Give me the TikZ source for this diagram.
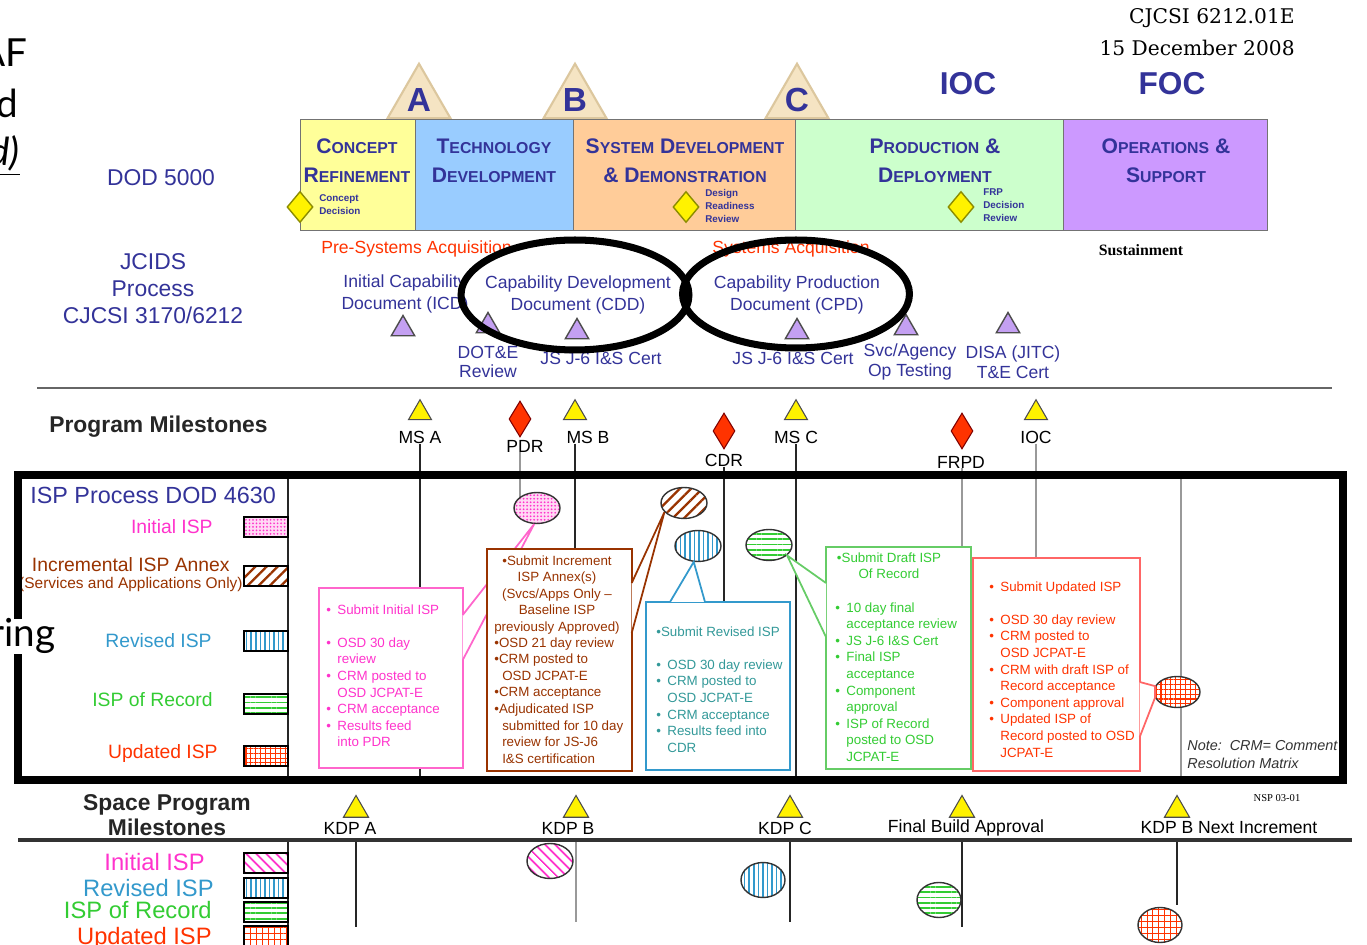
\documentclass[tikz,border=0pt]{standalone}
\usepackage{fontspec}
\setmainfont{Liberation Sans}
\newfontfamily\serifhead{DejaVu Serif}
\newfontfamily\timesfont{Liberation Serif}
\newfontfamily\slidefont{Lato}
\usepackage{tikz}
\usetikzlibrary{shapes.geometric, arrows.meta, positioning, calc, patterns.meta}
\usepackage{xcolor}
\definecolor{Navy}{HTML}{333399}
\definecolor{PhYellow}{HTML}{FFFF99}
\definecolor{PhBlue}{HTML}{99CCFF}
\definecolor{PhPeach}{HTML}{FFCC99}
\definecolor{PhGreen}{HTML}{CCFFCC}
\definecolor{PhPurple}{HTML}{CC99FF}
\definecolor{Beige}{HTML}{F5E4C3}
\definecolor{BeigeEdge}{HTML}{DCC79E}
\definecolor{Olive}{HTML}{8C8C00}
\definecolor{AcqRed}{HTML}{FF3300}
\definecolor{Lilac}{HTML}{C4A0F2}
\definecolor{ReviewRed}{HTML}{FF3300}
\definecolor{PinkT}{HTML}{FF33CC}
\definecolor{PinkL}{HTML}{FF66CC}
\definecolor{PinkBg}{HTML}{FFD9F4}
\definecolor{BrownT}{HTML}{993300}
\definecolor{BlueL}{HTML}{3399CC}
\definecolor{BlueT}{HTML}{339999}
\definecolor{GreenT}{HTML}{33CC33}
\definecolor{GreenL}{HTML}{66CC66}
\definecolor{RedT}{HTML}{FF3300}
\definecolor{RedL}{HTML}{FF6666}
\pgfdeclarelayer{bg}
\pgfsetlayers{bg,main}
\newcommand{\phsc}[2]{{\fontsize{12}{16.4}\selectfont #1}{\fontsize{9}{16.4}\selectfont #2}}
\newcommand{\ispbul}{\makebox[6.3pt][l]{\textbullet}}
\newcommand{\ispind}{\hspace*{6.3pt}}

\begin{document}
\begin{tikzpicture}[x=0.02cm, y=-0.02cm,
            every node/.style={inner sep=0pt},
            slidetxt/.style={anchor=base east, font=\slidefont\fontsize{22}{22}\selectfont},
            hdr/.style={anchor=east, font=\serifhead\fontsize{11.5}{11.5}\selectfont},
            gate/.style={regular polygon, regular polygon sides=3, minimum size=1.45cm, fill=Beige, draw=BeigeEdge, line width=1.2pt, text=Navy, font=\bfseries\fontsize{19}{19}\selectfont},
            gatetxt/.style={text=Navy, font=\bfseries\fontsize{18}{18}\selectfont},
            phasebox/.style={rectangle, draw=black!55, line width=0.6pt, anchor=north west, minimum height=2.22cm},
            phasetxt/.style={align=center, text=Navy, font=\bfseries\fontsize{12}{16.4}\selectfont},
            decision/.style={diamond, fill=yellow, draw=Olive, line width=0.8pt, minimum width=0.52cm, minimum height=0.62cm},
            dectxt/.style={anchor=west, align=left, text=Navy, font=\bfseries\fontsize{5.6}{7.4}\selectfont},
            navytxt/.style={text=Navy, align=center},
            acqtxt/.style={anchor=west, text=AcqRed, font=\fontsize{10}{10}\selectfont},
            doctxt/.style={align=center, text=Navy, font=\fontsize{10}{12.6}\selectfont},
            jtri/.style={regular polygon, regular polygon sides=3, minimum size=0.54cm, fill=Lilac, draw=black!70, line width=0.8pt},
            docring/.style={ellipse, draw=black, line width=4pt},
            msttl/.style={align=center, text=black!85, font=\bfseries\fontsize{13}{14.2}\selectfont},
            mstri/.style={regular polygon, regular polygon sides=3, minimum size=0.53cm, fill=yellow, draw=black!70, line width=0.6pt},
            review/.style={diamond, fill=ReviewRed, draw=black!50!red, line width=0.6pt, minimum width=0.44cm, minimum height=0.72cm},
            mslbl/.style={font=\fontsize{10}{10}\selectfont},
            tline/.style={draw=black!85, line width=0.8pt},
            tgray/.style={draw=black!40, line width=0.8pt},
            legtxt/.style={anchor=east, font=\fontsize{11}{11}\selectfont},
            biglegtxt/.style={anchor=east, font=\fontsize{13.5}{13.5}\selectfont},
            swatch/.style={rectangle, draw=black, line width=0.8pt, minimum width=0.88cm, minimum height=0.4cm},
            ispbox/.style={rectangle, fill=white, line width=1pt, anchor=north west},
            boxtxt/.style={anchor=north west, align=left, font=\fontsize{7.6}{9.45}\selectfont},
            boxhead/.style={anchor=north, align=center, font=\fontsize{7.6}{9.45}\selectfont},
            ispoval/.style={ellipse, draw=black!80, line width=0.8pt, minimum width=0.92cm, minimum height=0.62cm},
            botoval/.style={ellipse, draw=black!80, line width=0.8pt, minimum width=0.88cm, minimum height=0.7cm},
            framebox/.style={rectangle, draw=black, line width=4.5pt, anchor=north west},
            initfill/.style={preaction={fill=PinkBg}, pattern={Dots[distance=2pt,radius=0.55pt]}, pattern color=PinkT},
            incfill/.style={preaction={fill=white}, pattern={Lines[angle=45,distance=4.5pt,line width=1.3pt]}, pattern color=BrownT},
            revfill/.style={preaction={fill=white}, pattern={Lines[angle=90,distance=2.6pt,line width=0.9pt]}, pattern color=BlueL},
            recfill/.style={preaction={fill=white}, pattern={Lines[angle=0,distance=3pt,line width=1pt]}, pattern color=GreenT},
            updfill/.style={preaction={fill=white}, pattern={Hatch[angle=0,distance=2.8pt,line width=0.6pt]}, pattern color=RedT},
            slashfill/.style={preaction={fill=white}, pattern={Lines[angle=-45,distance=4pt,line width=1.1pt]}, pattern color=PinkT}
        ]
            \useasboundingbox (0,0) rectangle (1367,945);
            \clip (0,0) rectangle (1367,945);
            \begin{pgfonlayer}{bg}
                \fill[white] (0,0) rectangle (1367,945);
            \end{pgfonlayer}

            % Slide text cut at the left edge
            \node[slidetxt] (fragaf) at (28,67) {AF};
            \node[slidetxt] (fragd) at (18,118) {d};
            \node[slidetxt] (fragdp) at (20,166) {\itshape\underline{d)}};

            % Document header
            \node[hdr] (cjcsi) at (1295,18) {CJCSI 6212.01E};
            \node[hdr] (hdrdate) at (1295,48) {15 December 2008};

            % DOD 5000 phases
            \node[gate] (gateA) at (419,100) {A};
            \node[gate] (gateB) at (575,100) {B};
            \node[gate] (gateC) at (797,100) {C};
            \node[gatetxt] (ioc) at (968,84) {IOC};
            \node[gatetxt] (foc) at (1172,84) {FOC};
            \node[phasebox, fill=PhYellow, minimum width=2.3cm] (crbox) at (300,119) {};
            \node[phasebox, fill=PhBlue, minimum width=3.16cm] (tdbox) at (415,119) {};
            \node[phasebox, fill=PhPeach, minimum width=4.44cm] (sddbox) at (573,119) {};
            \node[phasebox, fill=PhGreen, minimum width=5.36cm] (pdbox) at (795,119) {};
            \node[phasebox, fill=PhPurple, minimum width=4.08cm] (osbox) at (1063,119) {};
            \node[phasetxt] (crtxt) at (357,161) {\phsc{C}{ONCEPT}\\\phsc{R}{EFINEMENT}};
            \node[phasetxt] (tdtxt) at (494,161) {\phsc{T}{ECHNOLOGY}\\\phsc{D}{EVELOPMENT}};
            \node[phasetxt] (sddtxt) at (685,161) {\phsc{S}{YSTEM} \phsc{D}{EVELOPMENT}\\\phsc{\&}{} \phsc{D}{EMONSTRATION}};
            \node[phasetxt] (pdtxt) at (935,161) {\phsc{P}{RODUCTION} \phsc{\&}{}\\\phsc{D}{EPLOYMENT}};
            \node[phasetxt] (ostxt) at (1166,161) {\phsc{O}{PERATIONS} \phsc{\&}{}\\\phsc{S}{UPPORT}};
            \node[decision] (cdec) at (300,207) {};
            \node[dectxt] (cdectxt) at (319,205) {Concept\\Decision};
            \node[decision] (drr) at (686,207) {};
            \node[dectxt] (drrtxt) at (705,206) {Design\\Readiness\\Review};
            \node[decision] (frp) at (961,207) {};
            \node[dectxt] (frptxt) at (983,205) {FRP\\Decision\\Review};

            % Row titles
            \node[navytxt, font=\fontsize{13}{13}\selectfont] (dod) at (161,178) {DOD 5000};
            \node[navytxt, font=\fontsize{13}{15.3}\selectfont] (jcids) at (153,289) {JCIDS\\Process\\CJCSI 3170/6212};

            % JCIDS documents
            \node[acqtxt] (preacq) at (321,249) {Pre-Systems Acquisition};
            \node[acqtxt] (sysacq) at (712,249) {Systems Acquisition};
            \node[font=\timesfont\bfseries\fontsize{9}{9}\selectfont] (sustain) at (1141,250) {Sustainment};
            \node[doctxt] (icd) at (405,294) {Initial Capability\\Document (ICD)};
            \node[doctxt] (cdd) at (578,295) {Capability Development\\Document (CDD)};
            \node[doctxt] (cpd) at (797,295) {Capability Production\\Document (CPD)};
            \node[jtri] (icdtri) at (403,329) {};
            \node[jtri] (dotetri) at (488,326) {};
            \node[jtri] (cddtri) at (577,332) {};
            \node[jtri] (cpdtri) at (797,332) {};
            \node[jtri] (svctri) at (906,328) {};
            \node[jtri] (disatri) at (1008,326) {};
            \node[doctxt, font=\fontsize{10}{11.3}\selectfont] (dotelbl) at (488,362) {DOT\&E\\Review};
            \node[doctxt] (cddcert) at (601,358) {JS J-6 I\&S Cert};
            \node[doctxt] (cpdcert) at (793,358) {JS J-6 I\&S Cert};
            \node[doctxt, font=\fontsize{10}{11.3}\selectfont] (svclbl) at (910,362) {Svc/Agency\\Op Testing};
            \node[doctxt, font=\fontsize{10}{11.3}\selectfont] (disalbl) at (1013,362) {DISA (JITC)\\T\&E Cert};
            \node[docring, minimum width=4.56cm, minimum height=2.2cm] (cddring) at (575,295) {};
            \node[docring, minimum width=4.54cm, minimum height=2.16cm] (cpdring) at (796,294) {};
            \coordinate (jrw) at (37,388);
            \coordinate (jre) at (1332,388);
            \draw[draw=black!60, line width=1.2pt] (jrw) -- (jre);

            % Program milestones
            \node[msttl, anchor=west] (progms) at (49,427) {Program Milestones};
            \node[mstri] (msA) at (420,413) {};
            \node[review] (pdr) at (520,419) {};
            \node[mstri] (msB) at (575,413) {};
            \node[review] (cdr) at (724,431) {};
            \node[mstri] (msC) at (796,413) {};
            \node[review] (frpd) at (962,431) {};
            \node[mstri] (msIOC) at (1036,413) {};
            \node[mslbl] (msAlbl) at (420,437) {MS A};
            \node[mslbl] (pdrlbl) at (525,446) {PDR};
            \node[mslbl] (msBlbl) at (588,437) {MS B};
            \node[mslbl] (cdrlbl) at (724,460) {CDR};
            \node[mslbl] (msClbl) at (796,437) {MS C};
            \node[mslbl] (frpdlbl) at (961,462) {FRPD};
            \node[mslbl] (ioclbl) at (1036,437) {IOC};

            % ISP process legend
            \node[navytxt, anchor=west, font=\fontsize{13.3}{13.3}\selectfont] (isphead) at (30,495) {ISP Process DOD 4630};
            \node[legtxt, text=PinkT] (leginit) at (213,527) {Initial ISP};
            \node[legtxt, text=BrownT] (leginc) at (230,565) {Incremental ISP Annex};
            \node[legtxt, text=BrownT, font=\fontsize{8.8}{8.8}\selectfont] (legincsub) at (243,585) {(Services and Applications Only)};
            \node[legtxt, text=BlueL] (legrev) at (212,641) {Revised ISP};
            \node[legtxt, text=GreenT] (legrec) at (213,700) {ISP of Record};
            \node[legtxt, text=RedT] (legupd) at (218,754) {Updated ISP};
            \node[swatch, initfill] (swinit) at (266,527) {};
            \node[swatch, incfill] (swinc) at (266,576) {};
            \node[swatch, revfill] (swrev) at (266,641) {};
            \node[swatch, recfill] (swrec) at (266,704) {};
            \node[swatch, updfill] (swupd) at (266,756) {};

            % ISP callouts
            \node[ispbox, draw=PinkL, minimum width=2.88cm, minimum height=3.6cm] (initbox) at (318,587) {};
            \node[ispoval, initfill] (initoval) at (537,508) {};
            \draw[PinkL, line width=1pt, fill=white] ($(initbox.north east)+(-1,28)$) -- (initoval.-100) -- ($(initbox.north east)+(-1,73)$);
            \node[boxtxt, text=PinkT] (inittxt) at (326,604) {\ispbul Submit Initial ISP\\[9.45pt]\ispbul OSD 30 day\\\ispind review\\\ispbul CRM posted to\\\ispind OSD JCPAT-E\\\ispbul CRM acceptance\\\ispbul Results feed\\\ispind into PDR};

            \node[ispbox, draw=BrownT, minimum width=2.9cm, minimum height=4.44cm] (incbox) at (486,548) {};
            \node[ispoval, incfill] (incoval) at (684,503) {};
            \draw[BrownT, line width=1pt, fill=white] ($(incbox.north east)+(-1,35)$) -- (incoval.205) -- ($(incbox.north east)+(-1,85)$);
            \node[boxhead, text=BrownT] (inchead) at (557,555) {\textbullet Submit Increment\\ISP Annex(s)\\(Svcs/Apps Only --\\Baseline ISP\\previously Approved)};
            \node[boxtxt, text=BrownT] (inctxt) at (494,637) {\textbullet OSD 21 day review\\\textbullet CRM posted to\\\hspace*{4.5pt}OSD JCPAT-E\\\textbullet CRM acceptance\\\textbullet Adjudicated ISP\\\hspace*{4.5pt}submitted for 10 day\\\hspace*{4.5pt}review for JS-J6\\\hspace*{4.5pt}I\&S certification};

            \node[ispbox, draw=BlueL, minimum width=2.88cm, minimum height=3.36cm] (revbox) at (645,601) {};
            \node[ispoval, revfill] (revoval) at (698,546) {};
            \draw[BlueL, line width=1pt, fill=white] ($(revbox.north west)+(25,1)$) -- (revoval.-105) -- ($(revbox.north west)+(60,1)$);
            \node[boxtxt, text=BlueT] (revtxt) at (656,626) {\textbullet Submit Revised ISP\\[9.45pt]\ispbul OSD 30 day review\\\ispbul CRM posted to\\\ispind OSD JCPAT-E\\\ispbul CRM acceptance\\\ispbul Results feed into\\\ispind CDR};

            \node[ispbox, draw=GreenL, minimum width=2.9cm, minimum height=4.44cm] (recbox) at (825,546) {};
            \node[ispoval, recfill] (recoval) at (769,545) {};
            \draw[GreenL, line width=1pt, fill=white] ($(recbox.north west)+(1,37)$) -- (recoval.-30) -- ($(recbox.north west)+(1,91)$);
            \node[boxhead, text=GreenT] (rechead) at (889,552) {\textbullet Submit Draft ISP\\Of Record};
            \node[boxtxt, text=GreenT] (rectxt) at (835,602) {\ispbul 10 day final\\\ispind acceptance review\\\ispbul JS J-6 I\&S Cert\\\ispbul Final ISP\\\ispind acceptance\\\ispbul Component\\\ispind approval\\\ispbul ISP of Record\\\ispind posted to OSD\\\ispind JCPAT-E};

            \node[ispbox, draw=RedL, minimum width=3.34cm, minimum height=4.26cm] (updbox) at (972,557) {};
            \node[ispoval, updfill] (updoval) at (1177,692) {};
            \draw[RedL, line width=1pt, fill=white] ($(updbox.north east)+(-1,125)$) -- (updoval.165) -- (updoval.195) -- ($(updbox.north east)+(-1,180)$);
            \node[boxtxt, text=RedT] (updtxt) at (989,581) {\ispbul Submit Updated ISP\\[9.45pt]\ispbul OSD 30 day review\\\ispbul CRM posted to\\\ispind OSD JCPAT-E\\\ispbul CRM with draft ISP of\\\ispind Record acceptance\\\ispbul Component approval\\\ispbul Updated ISP of\\\ispind Record posted to OSD\\\ispind JCPAT-E};

            \node[boxtxt, text=black!80, font=\itshape\fontsize{8.2}{10.2}\selectfont] (crmnote) at (1187,740) {Note:\ \ CRM= Comment\\Resolution Matrix};

            % Highlight frame round the ISP process
            \node[framebox, minimum width=26.5cm, minimum height=6.1cm] (ispframe) at (14,471) {};
            \coordinate (lastcol) at (1181,471);
            \node[slidetxt, fill=white] (fragring) at (56,647) {ring};

            % Space program milestones
            \node[msttl] (spacems) at (167,815) {Space Program\\Milestones};
            \node[font=\timesfont\fontsize{6}{6}\selectfont] (nsp) at (1277,798) {NSP 03-01};
            \node[mstri, minimum size=0.58cm] (kdpA) at (356,810) {};
            \node[mstri, minimum size=0.58cm] (kdpB) at (576,810) {};
            \node[mstri, minimum size=0.58cm] (kdpC) at (790,810) {};
            \node[mstri, minimum size=0.58cm] (kdpF) at (962,810) {};
            \node[mstri, minimum size=0.58cm] (kdpN) at (1177,810) {};
            \node[mslbl] (kdpAlbl) at (350,828) {KDP A};
            \node[mslbl] (kdpBlbl) at (568,828) {KDP B};
            \node[mslbl] (kdpClbl) at (785,828) {KDP C};
            \node[mslbl] (kdpFlbl) at (966,828) {Final Build Approval};
            \node[mslbl] (kdpNlbl) at (1229,828) {KDP B Next Increment};
            \coordinate (hlw) at (18,840);
            \coordinate (hle) at (1352,840);
            \draw[draw=black!80, line width=2pt] (hlw) -- (hle);
            \node[biglegtxt, text=PinkT] (bleginit) at (205,862) {Initial ISP};
            \node[biglegtxt, text=BlueL] (blegrev) at (214,888) {Revised ISP};
            \node[biglegtxt, text=GreenT] (blegrec) at (212,910) {ISP of Record};
            \node[biglegtxt, text=RedT] (blegupd) at (212,938) {Updated ISP};
            \node[swatch, slashfill] (bswinit) at (266,863) {};
            \node[swatch, revfill] (bswrev) at (266,888) {};
            \node[swatch, recfill] (bswrec) at (266,912) {};
            \node[swatch, updfill, pattern={Hatch[angle=0,distance=3.4pt,line width=0.5pt]}] (bswupd) at (266,936) {};
            \node[botoval, slashfill, minimum width=0.92cm] (botinit) at (550,861) {};
            \node[botoval, revfill] (botrev) at (763,880) {};
            \node[botoval, recfill] (botrec) at (939,900) {};
            \node[botoval, updfill, pattern={Hatch[angle=0,distance=3.4pt,line width=0.5pt]}] (botupd) at (1160,925) {};

            % Timeline drops behind everything
            \begin{pgfonlayer}{bg}
                \draw[tline] (msA |- msAlbl.south) -- (msA |- ispframe.south);
                \draw[tgray] (pdr |- pdrlbl.south) -- (pdr |- initoval.center);
                \draw[tline] (msB |- msBlbl.south) -- (msB |- incbox.north);
                \draw[tline] (cdr |- cdrlbl.south) -- (cdr |- revbox.north);
                \draw[tline] (msC |- msClbl.south) -- (msC |- ispframe.south);
                \draw[tgray] (frpd |- frpdlbl.south) -- (frpd |- recbox.north);
                \draw[tgray] (msIOC |- ioclbl.south) -- (msIOC |- updbox.north);
                \draw[tgray] (lastcol) -- (lastcol |- ispframe.south);
                \draw[tline] (288,471) -- (288,776);
                \draw[tline] (288,840) -- (288,945);
                \draw[tline] (kdpA |- hlw) -- ++(0,87);
                \draw[tgray] (kdpB |- hlw) -- ++(0,82);
                \draw[tline] (kdpC |- hlw) -- ++(0,82);
                \draw[tline] (kdpF |- hlw) -- ++(0,87);
                \draw[tline] (kdpN |- hlw) -- ++(0,65);
            \end{pgfonlayer}
        \end{tikzpicture}
\end{document}
